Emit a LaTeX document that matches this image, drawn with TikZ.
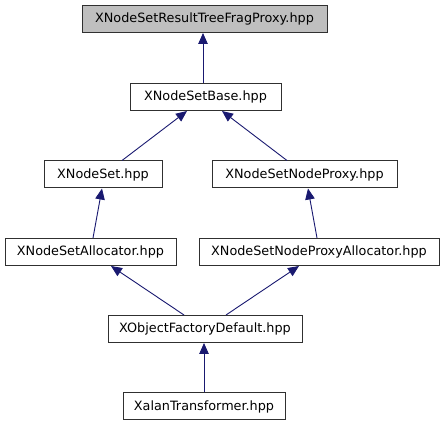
\documentclass[tikz,border=0pt]{standalone}
\usepackage{fontspec}
\setmainfont{DejaVu Sans}
\usetikzlibrary{arrows.meta}
\definecolor{edgecol}{HTML}{191970}
\definecolor{boxline}{HTML}{303030}
\begin{document}
\begin{tikzpicture}[x=1pt,y=-1pt,
  box/.style={draw=boxline,line width=1pt,fill=white,minimum height=27pt,inner sep=0pt,
    font=\fontsize{12.8}{15}\selectfont},
  rootbox/.style={box,fill=black!25},
  dep/.style={draw=edgecol,line width=0.9pt,-{Triangle[length=11pt,width=9.5pt]}}]
\useasboundingbox (0,0) rectangle (445,427);
\node[rootbox,minimum width=245pt] (top) at (204.5,19) {XNodeSetResultTreeFragProxy.hpp};
\node[box,minimum width=151pt] (base) at (205.5,97) {XNodeSetBase.hpp};
\node[box,minimum width=118pt] (xns) at (103,174.5) {XNodeSet.hpp};
\node[box,minimum width=185pt] (np) at (304.5,174.5) {XNodeSetNodeProxy.hpp};
\node[box,minimum width=171pt] (alloc) at (90.5,252) {XNodeSetAllocator.hpp};
\node[box,minimum width=240pt] (npalloc) at (319,252) {XNodeSetNodeProxyAllocator.hpp};
\node[box,minimum width=194pt] (xofd) at (205,329) {XObjectFactoryDefault.hpp};
\node[box,minimum width=162pt] (xt) at (204,406.5) {XalanTransformer.hpp};
\draw[dep] ([xshift=-2.5pt]base.north) -- ([xshift=-2.5pt]base.north |- top.south);
\draw[dep] ([xshift=19pt]xns.north) -- ([xshift=-18.5pt]base.south);
\draw[dep] ([xshift=-17.5pt]np.north) -- ([xshift=16.5pt]base.south);
\draw[dep] ([xshift=2.5pt]alloc.north) -- ([xshift=-1pt]xns.south);
\draw[dep] ([xshift=-2pt]npalloc.north) -- ([xshift=3.5pt]np.south);
\draw[dep] ([xshift=-21pt]xofd.north) -- ([xshift=20.5pt]alloc.south);
\draw[dep] ([xshift=21pt]xofd.north) -- ([xshift=-20pt]npalloc.south);
\draw[dep] (xt.north) -- (xt.north |- xofd.south);
\end{tikzpicture}
\end{document}
